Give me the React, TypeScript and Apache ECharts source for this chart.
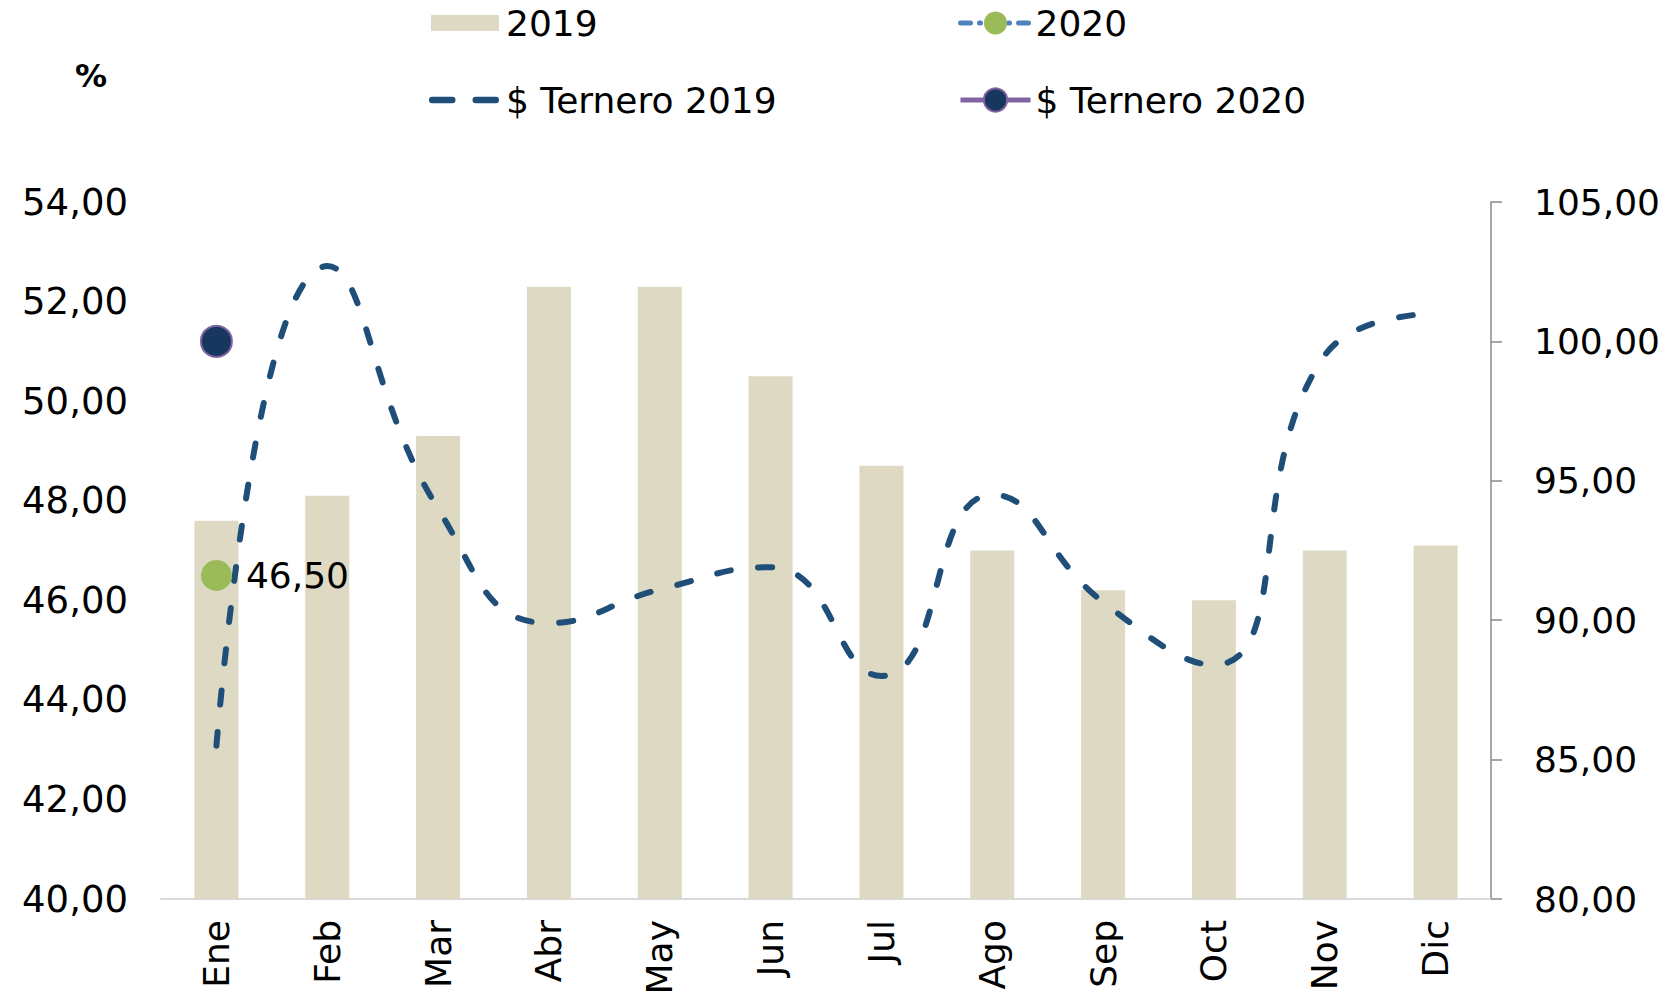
import React, { useEffect, useRef } from "react";
import * as echarts from "echarts";

const categories = ["Ene", "Feb", "Mar", "Abr", "May", "Jun", "Jul", "Ago", "Sep", "Oct", "Nov", "Dic"];
const bars2019 = [47.6, 48.1, 49.3, 52.3, 52.3, 50.5, 48.7, 47.0, 46.2, 46.0, 47.0, 47.1];
const values2020 = [46.5, null, null, null, null, null, null, null, null, null, null, null];
const ternero2019 = [85.5, 102.7, 94.0, 89.9, 91.1, 91.9, 88.0, 94.5, 90.65, 88.4, 99.5, 101.0];
const ternero2020 = [100.0, null, null, null, null, null, null, null, null, null, null, null];
const leftTicks = { min: 40, max: 54, interval: 2 };
const rightTicks = { min: 80, max: 105, interval: 5 };

const FONT = "DejaVu Sans";
const fmt = (v: number) => v.toFixed(2).replace(".", ",");

export default function App() {
  const ref = useRef<HTMLDivElement>(null);
  useEffect(() => {
    if (!ref.current) return;
    const chart = echarts.init(ref.current, null, { renderer: "svg" });
    const textStyle = { fontFamily: FONT, fontSize: 36, color: "#000" };
    chart.setOption({
      animation: false,
      backgroundColor: "#fff",
      textStyle: { fontFamily: FONT },
      grid: { left: 161, right: 175, top: 202, bottom: 102, containLabel: false },
      graphic: [
        {
          type: "text",
          left: 75,
          top: 60,
          style: { text: "%", font: `bold 32px '${FONT}'`, fill: "#000" },
        },
      ],
      legend: [
        {
          data: [{ name: "2019", icon: "rect" }],
          left: 431,
          top: 5,
          padding: 0,
          itemWidth: 68,
          itemHeight: 16,
          textStyle: { ...textStyle, padding: [0, 0, 0, 2] },
          selectedMode: false,
        },
        {
          data: ["2020"],
          left: 958,
          top: 5,
          padding: 0,
          itemWidth: 70,
          itemHeight: 29,
          lineStyle: { width: 5 },
          textStyle: { ...textStyle, padding: [0, 0, 0, 0] },
          selectedMode: false,
        },
        {
          data: [
            {
              name: "$ Ternero 2019",
              icon: "path://M3,0 L22,0 A3,3 0 0 1 22,6 L3,6 A3,3 0 0 1 3,0 Z M44,0 L63,0 A3,3 0 0 1 63,6 L44,6 A3,3 0 0 1 44,0 Z",
            },
          ],
          left: 429,
          top: 82,
          padding: 0,
          itemWidth: 70,
          itemHeight: 29,
          textStyle: { ...textStyle, padding: [0, 0, 0, 2] },
          selectedMode: false,
        },
        {
          data: ["$ Ternero 2020"],
          left: 958,
          top: 82,
          padding: 0,
          itemWidth: 70,
          itemHeight: 29,
          lineStyle: { width: 5 },
          textStyle: { ...textStyle, padding: [0, 0, 0, 0] },
          selectedMode: false,
        },
      ],
      xAxis: {
        type: "category",
        data: categories,
        axisLine: { show: true, lineStyle: { color: "#D9D9D9", width: 2 } },
        axisTick: { show: false },
        axisLabel: { ...textStyle, rotate: 90, margin: 21, interval: 0 },
        splitLine: { show: false },
      },
      yAxis: [
        {
          type: "value",
          min: leftTicks.min,
          max: leftTicks.max,
          interval: leftTicks.interval,
          axisLine: { show: false },
          axisTick: { show: false },
          splitLine: { show: false },
          axisLabel: { ...textStyle, fontSize: 37, margin: 33, formatter: (v: number) => fmt(v) },
        },
        {
          type: "value",
          position: "right",
          min: rightTicks.min,
          max: rightTicks.max,
          interval: rightTicks.interval,
          axisLine: { show: true, lineStyle: { color: "#888888", width: 1.5 } },
          axisTick: { show: true, length: 11, lineStyle: { color: "#888888", width: 1.5 } },
          splitLine: { show: false },
          axisLabel: { ...textStyle, margin: 43, formatter: (v: number) => fmt(v) },
        },
      ],
      series: [
        {
          name: "2019",
          type: "bar",
          data: bars2019,
          barWidth: 44,
          itemStyle: { color: "#DDD9C3" },
          yAxisIndex: 0,
        },
        {
          name: "2020",
          type: "line",
          data: values2020,
          yAxisIndex: 0,
          symbol: "circle",
          symbolSize: 31,
          itemStyle: { color: "#9BBB59" },
          lineStyle: { color: "#4F81BD", width: 5, type: [10, 9, 1, 9], cap: "round" },
          label: {
            show: true,
            position: "right",
            distance: 14,
            ...textStyle,
            formatter: (p: any) => fmt(p.value),
          },
          z: 4,
        },
        {
          name: "$ Ternero 2019",
          type: "line",
          data: ternero2019,
          yAxisIndex: 1,
          smooth: 0.5,
          symbol: "none",
          showSymbol: false,
          itemStyle: { color: "#1F4E79" },
          lineStyle: { color: "#1F4E79", width: 6, type: [14, 27.5], cap: "round" },
          z: 3,
        },
        {
          name: "$ Ternero 2020",
          type: "line",
          data: ternero2020,
          yAxisIndex: 1,
          symbol: "circle",
          symbolSize: 31,
          itemStyle: { color: "#17375E", borderColor: "#8064A2", borderWidth: 2 },
          lineStyle: { color: "#8064A2", width: 5 },
          z: 5,
        },
      ],
    });
    return () => chart.dispose();
  }, []);
  return (
    <div
      ref={ref}
      style={{ position: "absolute", left: 0, top: 0, width: 1666, height: 1001 }}
    />
  );
}
